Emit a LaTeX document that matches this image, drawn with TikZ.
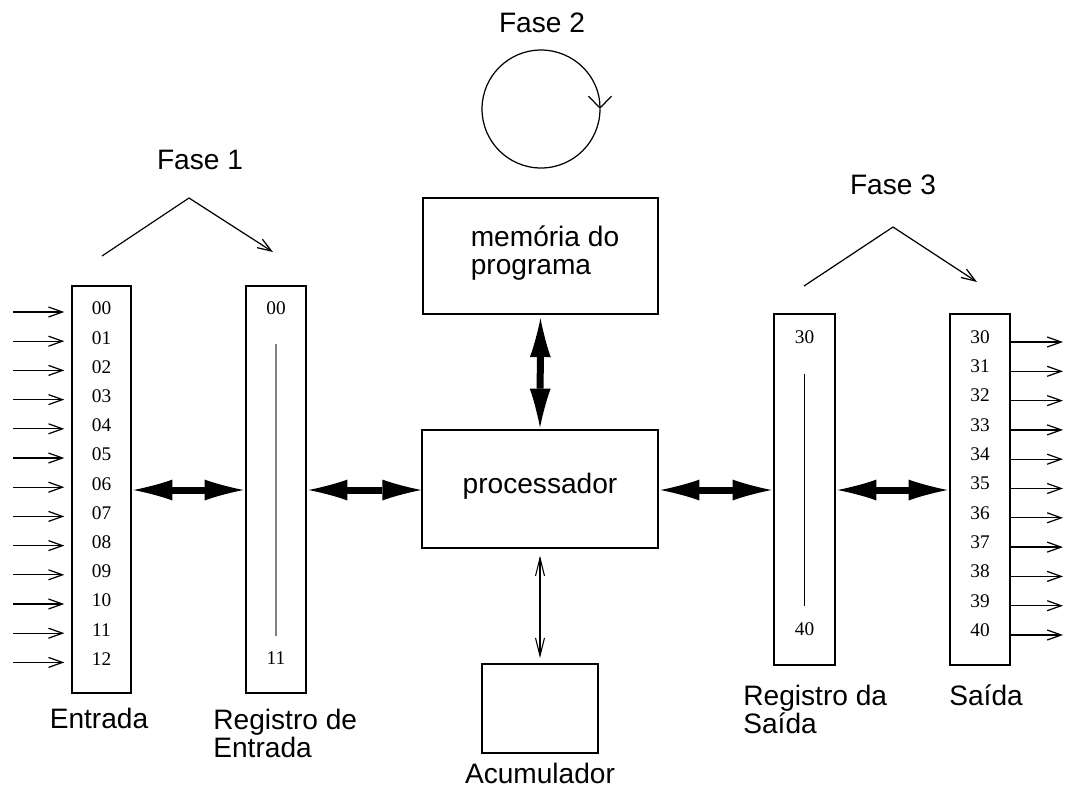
\documentclass[tikz,border=0pt]{standalone}
\usepackage{fontspec}
\setmainfont{Liberation Sans}
\newfontfamily\numfont{Liberation Serif}
\usetikzlibrary{arrows.meta}

\begin{document}
\begin{tikzpicture}[x=0.02cm,y=-0.02cm]
	\tikzstyle{box} = [draw, line width=0.8pt, inner sep=0pt]
	\tikzstyle{lbl} = [inner sep=0pt, font=\fontsize{16}{16}\selectfont]
	\tikzstyle{num} = [inner sep=0pt, font=\numfont\fontsize{11}{11}\selectfont]
	\tikzstyle{fat} = [draw, line width=0.14cm, {Latex[length=0.78cm,width=0.42cm,line width=0pt]}-{Latex[length=0.78cm,width=0.42cm,line width=0pt]}]
	\tikzstyle{wire} = [draw, line width=0.7pt, -{Straight Barb[length=0.28cm,width=0.2cm]}]
	\tikzstyle{wires} = [draw, line width=0.6pt, {Straight Barb[length=0.36cm,width=0.18cm]}-{Straight Barb[length=0.36cm,width=0.18cm]}]

	\useasboundingbox (0,0) rectangle (1065,789);

	% blocos
	\node(Entrada)[box, minimum width=1.18cm, minimum height=8.14cm] at (101.5,489.5) {};
	\node(RegEntrada)[box, minimum width=1.2cm, minimum height=8.14cm] at (276,489.5) {};
	\node(Memoria)[box, minimum width=4.7cm, minimum height=2.32cm] at (540.5,256) {};
	\node(Proc)[box, minimum width=4.72cm, minimum height=2.36cm] at (540,489) {};
	\node(Acum)[box, minimum width=2.32cm, minimum height=1.78cm] at (540,708.5) {};
	\node(RegSaida)[box, minimum width=1.22cm, minimum height=7.02cm] at (804.5,489.5) {};
	\node(Saida)[box, minimum width=1.2cm, minimum height=7.02cm] at (980,489.5) {};

	\node(tMemoria)[lbl, align=left] at (545,253) {mem\'oria do\\programa};
	\node(tProc)[lbl] at (540,486) {processador};

	% entradas
	\foreach \n [count=\k from 0] in {00,01,02,03,04,05,06,07,08,09,10,11,12}{
		\node(e\n)[num] at (101.5,308.5+29.2*\k) {\n};
		\coordinate (src\n) at (13,312+29.2*\k);
		\draw[wire, shorten >=0.14cm] (src\n) -- (src\n -| Entrada.west);
	}
	% saidas
	\foreach \n [count=\k from 0] in {30,31,32,33,34,35,36,37,38,39,40}{
		\node(s\n)[num] at (980,337+29.3*\k) {\n};
		\coordinate (dst\n) at (1063,342+29.3*\k);
		\draw[wire] (dst\n -| Saida.east) -- (dst\n);
	}

	\node(r00)[num] at (276,308) {00};
	\node(r11)[num] at (276,658) {11};
	\draw[gray, line width=1.2pt, shorten <=0.58cm, shorten >=0.3cm] (r00) -- (r11);
	\node(q30)[num] at (804.5,337) {30};
	\node(q40)[num] at (804.5,629) {40};
	\draw[line width=0.8pt, shorten <=0.6cm, shorten >=0.32cm] (q30) -- (q40);

	% barramentos
	\draw[fat, shorten <=1pt, shorten >=1pt] (Entrada.east |- 0,490) -- (RegEntrada.west |- 0,490);
	\draw[fat, shorten <=1pt] (RegEntrada.east |- 0,490) -- (Proc.west |- 0,490);
	\draw[fat, shorten <=1pt, shorten >=1pt] (Proc.east |- 0,490) -- (RegSaida.west |- 0,490);
	\draw[fat, shorten <=1pt, shorten >=1pt] (RegSaida.east |- 0,490) -- (Saida.west |- 0,490);
	\draw[fat, shorten <=2pt, shorten >=1pt] (Memoria.south) -- (Proc.north);
	\draw[wires, shorten <=4pt, shorten >=3pt] (Proc.south) -- (Acum.north);

	% fases
	\node(Fase1)[lbl] at (200,160) {Fase 1};
	\coordinate (f1a) at (102,256);
	\coordinate (f1b) at (189,198);
	\coordinate (f1c) at (273,252);
	\draw[wire] (f1a) -- (f1b) -- (f1c);

	\node(Fase2)[lbl] at (542,23) {Fase 2};
	\coordinate (ciclo) at (541,109);
	\draw[line width=0.7pt, -{Straight Barb[length=0.24cm,width=0.46cm]}] (ciclo) ++(1.18cm,0) arc[start angle=0, end angle=-360, radius=1.18cm];

	\node(Fase3)[lbl] at (893,185) {Fase 3};
	\coordinate (f3a) at (804,286);
	\coordinate (f3b) at (893,227);
	\coordinate (f3c) at (977,282);
	\draw[wire] (f3a) -- (f3b) -- (f3c);

	% rotulos
	\node(lEntrada)[lbl] at (99,718) {Entrada};
	\node(lRegEntrada)[lbl, align=left, anchor=north west] at (213,709) {Registro de\\Entrada};
	\node(lRegSaida)[lbl, align=left, anchor=north west] at (743,685) {Registro da\\Sa\'ida};
	\node(lSaida)[lbl, anchor=west] at (949,695) {Sa\'ida};
	\node(lAcum)[lbl] at (540,773) {Acumulador};
\end{tikzpicture}
\end{document}
